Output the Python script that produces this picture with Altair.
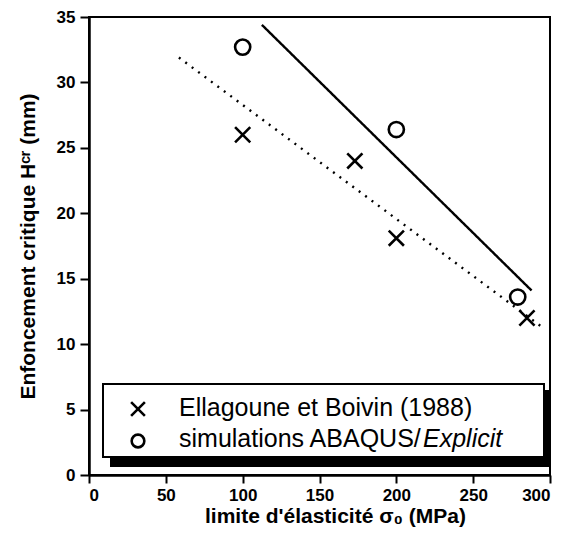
import altair as alt
import pandas as pd

# ---- data ----
series = ["Ellagoune et Boivin (1988)", "simulations ABAQUS/Explicit"]
label_plain = ["Ellagoune et Boivin (1988)", "simulations ABAQUS/"]
label_italic = ["", "Explicit"]

exp_x = [100, 173, 200, 285]
exp_y = [26.0, 24.0, 18.1, 12.0]

sim_x = [100, 200, 279]
sim_y = [32.7, 26.4, 13.6]

# linear fits (end points)
fit_exp_x = [58.5, 296]
fit_exp_y = [31.9, 11.2]
fit_sim_x = [112.5, 288]
fit_sim_y = [34.4, 14.1]

x_ticks = list(range(0, 301, 25))
y_ticks = [i * 2.5 for i in range(0, 15)]

FONT = "Liberation Sans"
CROSS = "M-1,-1L1,1M1,-1L-1,1"

pts = pd.DataFrame({
    "x": exp_x + sim_x,
    "y": exp_y + sim_y,
    "s": [series[0]] * len(exp_x) + [series[1]] * len(sim_x),
})
fits = pd.DataFrame({
    "x": fit_exp_x + fit_sim_x,
    "y": fit_exp_y + fit_sim_y,
    "s": [series[0]] * 2 + [series[1]] * 2,
})

xscale = alt.Scale(domain=[0, 300], nice=False, zero=False)
yscale = alt.Scale(domain=[0, 35], nice=False, zero=False)

xaxis = alt.Axis(
    values=x_ticks,
    labelExpr="datum.value % 50 === 0 ? datum.label : ''",
    tickSize={"condition": {"test": "datum.value % 50 === 0", "value": 8}, "value": 4},
    title="limite d'élasticité σ₀ (MPa)",
    titleX=246, titleY=47, titleBaseline="alphabetic", titleAlign="center",
    labelPadding=4, grid=False,
)
yaxis = alt.Axis(
    values=y_ticks,
    labelExpr="datum.value % 5 === 0 ? datum.label : ''",
    tickSize={"condition": {"test": "datum.value % 5 === 0", "value": 9}, "value": 4},
    title="Enfoncement critique Hᶜʳ (mm)",
    titleX=-55, titleY=229, titleAngle=-90, titleBaseline="alphabetic", titleAlign="center",
    labelPadding=5, grid=False,
)

lines = alt.Chart(fits).mark_line(color="black", strokeWidth=2.4).encode(
    x=alt.X("x:Q", scale=xscale, axis=xaxis),
    y=alt.Y("y:Q", scale=yscale, axis=yaxis),
    detail="s:N",
    strokeDash=alt.StrokeDash("s:N", scale=alt.Scale(domain=series, range=[[2, 6], [1, 0]]), legend=None),
)

points = alt.Chart(pts).mark_point(color="black", filled=False, strokeWidth=2.6, size=230, opacity=1).encode(
    x=alt.X("x:Q", scale=xscale),
    y=alt.Y("y:Q", scale=yscale),
    shape=alt.Shape("s:N", scale=alt.Scale(domain=series, range=[CROSS, "circle"]), legend=None),
)

one = pd.DataFrame({"k": [0]})

shadow = alt.Chart(one).mark_rect(color="black").encode(
    x=alt.value(21), x2=alt.value(461), y=alt.value(373), y2=alt.value(450)
)
box = alt.Chart(one).mark_rect(fill="white", stroke="black", strokeWidth=2).encode(
    x=alt.value(14), x2=alt.value(455), y=alt.value(367), y2=alt.value(440)
)
sym1 = alt.Chart(one).mark_point(shape=CROSS, color="black", filled=False, strokeWidth=2.6, size=190, opacity=1).encode(
    x=alt.value(49), y=alt.value(392)
)
sym2 = alt.Chart(one).mark_point(shape="circle", color="black", filled=False, strokeWidth=2.6, size=160, opacity=1).encode(
    x=alt.value(49), y=alt.value(424)
)
txt1 = alt.Chart(one).mark_text(align="left", baseline="alphabetic", fontSize=25, font=FONT, color="black").encode(
    x=alt.value(90), y=alt.value(399), text=alt.value(label_plain[0])
)
txt2 = alt.Chart(one).mark_text(align="left", baseline="alphabetic", fontSize=25, font=FONT, color="black").encode(
    x=alt.value(90), y=alt.value(430), text=alt.value(label_plain[1])
)
txt3 = alt.Chart(one).mark_text(align="left", baseline="alphabetic", fontSize=25, font=FONT, fontStyle="italic", color="black").encode(
    x=alt.value(334), y=alt.value(430), text=alt.value(label_italic[1])
)

chart = alt.layer(lines, points, shadow, box, sym1, sym2, txt1, txt2, txt3).properties(
    width=461, height=458, autosize="none",
    padding={"left": 81, "top": 9, "right": 4, "bottom": 60},
).configure_view(
    stroke="black", strokeWidth=2
).configure_axis(
    domainColor="black", domainWidth=2.5, tickColor="black", tickWidth=2,
    labelFont=FONT, labelFontSize=17, labelFontWeight="bold", labelColor="black",
    titleFont=FONT, titleFontSize=21, titleFontWeight="bold", titleColor="black",
)

chart.save("out.html", embed_options={"renderer": "svg", "actions": False})
